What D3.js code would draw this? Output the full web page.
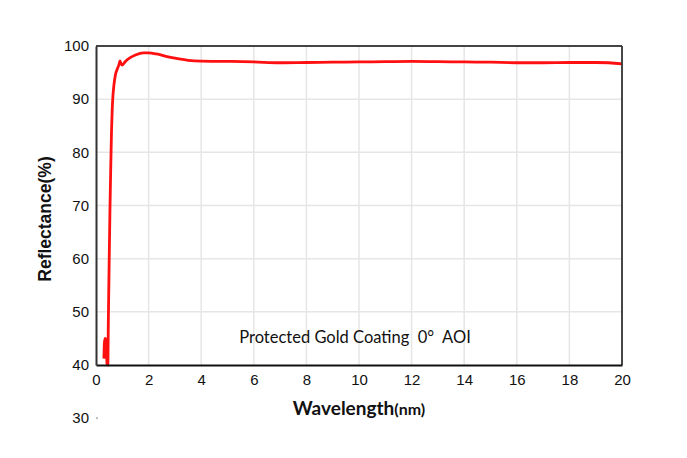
<!DOCTYPE html>
<html>
<head>
<meta charset="utf-8">
<script src="https://cdn.jsdelivr.net/npm/d3@7"></script>
<style>
  html, body { margin: 0; padding: 0; background: #fff; }
  svg { display: block; }
</style>
</head>
<body>
<svg id="chart" width="687" height="458"></svg>
<script>
// ---- data ----
const wavelength = [0.30, 0.32, 0.35, 0.38, 0.42, 0.45, 0.47, 0.50, 0.53, 0.56, 0.59, 0.62, 0.65, 0.68, 0.74, 0.82, 0.88, 0.91, 0.95, 1.00, 1.1, 1.3, 1.5, 1.8, 2.0, 2.3, 2.7, 3.0, 3.5, 4.0, 5, 6, 7, 8, 9, 10, 11, 12, 13, 14, 15, 16, 17, 18, 19, 19.5, 20];
const reflectance = [41.2, 44.2, 45.0, 44.5, 40.2, 40.0, 48.5, 59, 69, 77, 84, 88.5, 91, 92.6, 94.6, 95.8, 96.6, 97.2, 96.7, 96.4, 97.0, 97.8, 98.3, 98.7, 98.7, 98.5, 98.0, 97.7, 97.3, 97.15, 97.1, 97.0, 96.85, 96.9, 96.95, 97.0, 97.05, 97.1, 97.05, 97.0, 96.95, 96.85, 96.85, 96.9, 96.9, 96.85, 96.65];
const xTicks = [0, 2, 4, 6, 8, 10, 12, 14, 16, 18, 20];
const yTicks = [40, 50, 60, 70, 80, 90, 100];
const extraYLabel = [30];
const chartTitle = "Protected Gold Coating  0°  AOI";

// ---- layout ----
const svg = d3.select("#chart");
const L = 96, R = 622, T = 46, B = 365;

const x = d3.scaleLinear().domain([0, 20]).range([L, R]);
const y = d3.scaleLinear().domain([40, 100]).range([B, T]);

// gridlines
svg.append("g").selectAll("line.vg")
  .data(xTicks.filter(d => d > 0 && d < 20))
  .join("line")
  .attr("x1", d => x(d)).attr("x2", d => x(d))
  .attr("y1", T).attr("y2", B)
  .attr("stroke", "#e6e6e6").attr("stroke-width", 1.5);

svg.append("g").selectAll("line.hg")
  .data(yTicks.filter(d => d > 40 && d < 100))
  .join("line")
  .attr("x1", L).attr("x2", R)
  .attr("y1", d => y(d)).attr("y2", d => y(d))
  .attr("stroke", "#e6e6e6").attr("stroke-width", 1.5);

// curve
const line = d3.line()
  .x((d, i) => x(wavelength[i]))
  .y(d => y(d))
  .curve(d3.curveMonotoneX);

svg.append("path")
  .datum(reflectance)
  .attr("d", line)
  .attr("fill", "none")
  .attr("stroke", "#ff1010")
  .attr("stroke-width", 2.8)
  .attr("stroke-linejoin", "round");

// frame
svg.append("line").attr("x1", L).attr("x2", R).attr("y1", T).attr("y2", T)
  .attr("stroke", "#444").attr("stroke-width", 2);
svg.append("line").attr("x1", R).attr("x2", R).attr("y1", T).attr("y2", B)
  .attr("stroke", "#333").attr("stroke-width", 1.8);

// axes
const xAxis = d3.axisBottom(x).tickValues(xTicks).tickSize(0).tickPadding(9).tickFormat(d3.format("d"));
const gx = svg.append("g").attr("transform", `translate(0,${B})`).call(xAxis);
gx.select(".domain").attr("stroke", "#111").attr("stroke-width", 2);
gx.selectAll("text").attr("font-family", "Liberation Sans, Arial, sans-serif").attr("font-size", 15).attr("fill", "#111");

const yAxis = d3.axisLeft(y).tickValues(yTicks).tickSize(0).tickPadding(7).tickFormat(d3.format("d"));
const gy = svg.append("g").attr("transform", `translate(${L},0)`).call(yAxis);
gy.select(".domain").attr("stroke", "#333").attr("stroke-width", 2);
gy.selectAll("text").attr("font-family", "Liberation Sans, Arial, sans-serif").attr("font-size", 15).attr("fill", "#111");

// extra "30" label below the axis
const yExt = d3.scaleLinear().domain([40, 100]).range([B, T]);
const g30 = svg.append("g");
g30.selectAll("text")
  .data(extraYLabel)
  .join("text")
  .attr("x", L - 7)
  .attr("y", d => yExt(d))
  .attr("dy", "0.32em")
  .attr("text-anchor", "end")
  .attr("font-family", "Liberation Sans, Arial, sans-serif")
  .attr("font-size", 15)
  .attr("fill", "#111")
  .text(d => d);
g30.selectAll("rect")
  .data(extraYLabel)
  .join("rect")
  .attr("x", L).attr("y", d => yExt(d) - 1)
  .attr("width", 2).attr("height", 2)
  .attr("fill", "#bbb");

// title
svg.append("text")
  .attr("x", 355).attr("y", 343)
  .attr("text-anchor", "middle")
  .attr("xml:space", "preserve")
  .style("white-space", "pre")
  .attr("font-family", "Lato, 'Open Sans', sans-serif")
  .attr("font-size", 16.5)
  .attr("fill", "#111")
  .text(chartTitle);

// x label
const xl = svg.append("text")
  .attr("x", (L + R) / 2).attr("y", 415)
  .attr("text-anchor", "middle")
  .attr("font-family", "Lato, 'Open Sans', sans-serif")
  .attr("font-weight", "bold")
  .attr("fill", "#111");
xl.append("tspan").attr("font-size", 19).text("Wavelength");
xl.append("tspan").attr("font-size", 16).text("(nm)");

// y label
svg.append("text")
  .attr("transform", `translate(51,${219}) rotate(-90)`)
  .attr("text-anchor", "middle")
  .attr("font-family", "Liberation Sans, Arial, sans-serif")
  .attr("font-weight", "bold")
  .attr("font-size", 17.5)
  .attr("fill", "#111")
  .text("Reflectance(%)");
</script>
</body>
</html>
